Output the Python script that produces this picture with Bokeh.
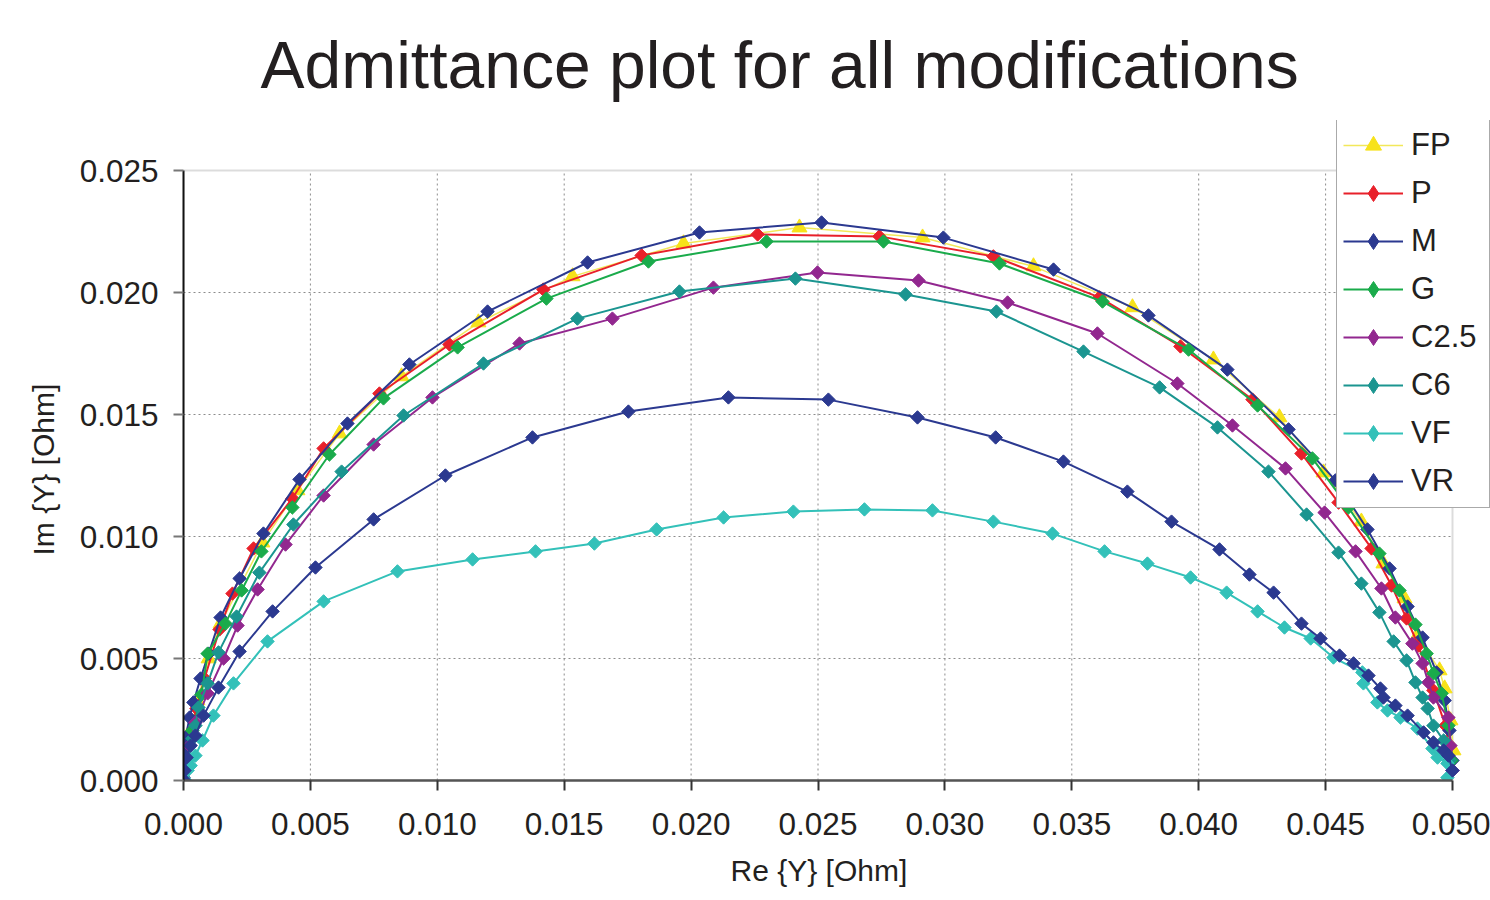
import math
import numpy as np
from bokeh.plotting import figure
from bokeh.models import Range1d, FixedTicker, NumeralTickFormatter, Legend, LegendItem, Title, BoxAnnotation
from bokeh.embed import file_html
from bokeh.resources import INLINE

# All values in units of 1e-3
FP_re = [0, 0.08, 0.28, 0.55, 0.99, 1.46, 3.11, 4.49, 6.15, 8.59, 11.62, 15.33, 19.70, 24.27, 29.12, 33.49, 37.39, 40.58, 43.18, 44.92, 46.41, 47.28, 48.11, 48.62, 49.49, 49.69, 49.92, 50.04]
FP_im = [0, 0.82, 2.05, 3.28, 5.00, 6.43, 9.75, 11.89, 14.22, 16.56, 18.77, 20.66, 22.01, 22.66, 22.25, 21.07, 19.39, 17.25, 14.88, 12.62, 10.61, 8.89, 7.46, 5.94, 4.51, 3.77, 2.46, 1.23]

P_re = [0, 0.08, 0.28, 0.51, 0.83, 1.42, 1.93, 2.76, 4.29, 5.52, 7.72, 10.48, 14.18, 18.05, 22.62, 27.42, 31.91, 36.09, 39.28, 42.12, 44.05, 45.51, 46.81, 47.60, 48.19, 48.66, 49.25, 49.72, 49.96]
P_im = [0.04, 0.74, 1.84, 2.95, 4.18, 6.19, 7.66, 9.51, 11.56, 13.61, 15.86, 17.87, 20.12, 21.52, 22.38, 22.30, 21.48, 19.80, 17.79, 15.61, 13.40, 11.39, 9.51, 7.99, 6.64, 5.53, 3.69, 2.25, 0.82]

M_re = [0, 0, 0, 0.08, 0.24, 0.39, 0.67, 0.99, 1.46, 2.21, 3.15, 4.57, 6.46, 8.90, 11.98, 15.92, 20.33, 25.14, 29.94, 34.28, 38.02, 41.13, 43.54, 45.39, 46.65, 47.52, 48.23, 48.82, 49.37, 49.69, 49.88, 50.00]
M_im = [0.12, 0.53, 1.23, 1.76, 2.58, 3.20, 4.18, 5.20, 6.68, 8.28, 10.12, 12.34, 14.63, 17.05, 19.22, 21.23, 22.46, 22.87, 22.25, 20.94, 19.06, 16.84, 14.39, 12.30, 10.29, 8.69, 7.13, 5.86, 4.43, 3.28, 2.05, 0.82]

G_re = [0, 0.12, 0.35, 0.71, 0.95, 1.65, 2.29, 3.07, 4.29, 5.75, 7.88, 10.80, 14.30, 18.32, 22.97, 27.58, 32.15, 36.21, 39.60, 42.32, 44.48, 45.90, 47.12, 47.91, 48.54, 48.98, 49.25, 49.57, 49.84, 49.96]
G_im = [0.04, 0.82, 2.05, 3.52, 5.20, 6.43, 7.79, 9.39, 11.19, 13.36, 15.66, 17.75, 19.75, 21.27, 22.09, 22.09, 21.19, 19.63, 17.66, 15.37, 13.20, 11.19, 9.30, 7.79, 6.39, 5.20, 4.39, 3.57, 2.25, 0.82]

C25_re = [0, 0.08, 0.24, 0.47, 0.95, 1.58, 2.13, 2.92, 4.02, 5.52, 7.49, 9.81, 13.24, 16.90, 20.88, 24.98, 28.96, 32.47, 36.01, 39.16, 41.33, 43.42, 44.96, 46.18, 47.20, 47.75, 48.42, 48.82, 49.05, 49.25, 49.84, 49.92, 50.00]
C25_im = [0, 0.61, 1.43, 2.38, 3.57, 5.00, 6.35, 7.83, 9.67, 11.68, 13.77, 15.70, 17.91, 18.93, 20.20, 20.82, 20.49, 19.59, 18.32, 16.27, 14.55, 12.79, 10.98, 9.39, 7.87, 6.68, 5.61, 4.80, 4.02, 3.40, 2.58, 1.43, 0.41]

C6_re = [0, 0.12, 0.35, 0.47, 0.59, 0.95, 1.38, 2.09, 2.99, 4.33, 6.23, 8.67, 11.82, 15.52, 19.54, 24.11, 28.45, 32.03, 35.46, 38.46, 40.74, 42.75, 44.25, 45.51, 46.41, 47.12, 47.68, 48.19, 48.54, 48.82, 49.02, 49.25, 49.65, 49.88]
C6_im = [0, 0.41, 1.72, 2.25, 2.99, 3.98, 5.25, 6.72, 8.52, 10.49, 12.66, 14.96, 17.09, 18.93, 20.04, 20.57, 19.92, 19.22, 17.58, 16.11, 14.47, 12.66, 10.90, 9.34, 8.07, 6.89, 5.70, 4.92, 4.02, 3.40, 2.95, 2.25, 1.64, 0.82]

VF_re = [0.04, 0.16, 0.28, 0.47, 0.75, 1.18, 1.97, 3.31, 5.52, 8.43, 11.39, 13.87, 16.19, 18.64, 21.28, 24.03, 26.83, 29.51, 31.91, 34.24, 36.29, 37.98, 39.68, 41.10, 42.32, 43.38, 44.41, 45.31, 46.45, 46.49, 47.04, 47.44, 47.95, 48.62, 49.21, 49.41, 49.80, 49.80]
VF_im = [0.04, 0.41, 0.61, 1.02, 1.64, 2.66, 3.98, 5.70, 7.34, 8.57, 9.06, 9.39, 9.71, 10.29, 10.78, 11.02, 11.11, 11.07, 10.61, 10.12, 9.39, 8.89, 8.32, 7.70, 6.93, 6.27, 5.82, 5.04, 4.43, 3.98, 3.20, 2.87, 2.58, 2.13, 1.31, 0.94, 0.70, 0.12]

VR_re = [0, 0.04, 0.12, 0.28, 0.47, 0.79, 1.38, 2.21, 3.51, 5.20, 7.49, 10.32, 13.75, 17.53, 21.47, 25.41, 28.92, 32.00, 34.67, 37.19, 38.93, 40.82, 42.00, 42.95, 44.05, 44.80, 45.55, 46.10, 46.69, 47.16, 47.28, 47.75, 48.23, 48.86, 49.25, 49.65, 49.84, 50.00]
VR_im = [0.04, 0.41, 0.94, 1.43, 1.84, 2.66, 3.81, 5.29, 6.93, 8.73, 10.70, 12.50, 14.06, 15.12, 15.70, 15.61, 14.88, 14.06, 13.07, 11.84, 10.61, 9.47, 8.44, 7.70, 6.43, 5.82, 5.12, 4.80, 4.30, 3.77, 3.40, 3.07, 2.66, 1.97, 1.56, 1.23, 1.02, 0.41]

x_ticks = [0.000, 0.005, 0.010, 0.015, 0.020, 0.025, 0.030, 0.035, 0.040, 0.045, 0.050]
y_ticks = [0.000, 0.005, 0.010, 0.015, 0.020, 0.025]

series = [
    ("FP", FP_re, FP_im, "#f2e85a", "#f7e21a", "triangle", 1.5),
    ("P", P_re, P_im, "#e8202a", "#e8202a", "diamond", 2),
    ("M", M_re, M_im, "#2b3990", "#2b3990", "diamond", 2),
    ("G", G_re, G_im, "#1aab4b", "#1aab4b", "diamond", 2),
    ("C2.5", C25_re, C25_im, "#92278f", "#92278f", "diamond", 2),
    ("C6", C6_re, C6_im, "#1b9590", "#1b9590", "diamond", 2),
    ("VF", VF_re, VF_im, "#33c1b9", "#33c1b9", "diamond", 2),
    ("VR", VR_re, VR_im, "#2b3990", "#2b3990", "diamond", 2),
]

# plot box: data area 0..0.050 x 0..0.025 spans 1269 x 610 px; the frame is
# extended right/up so that the legend (which overlaps the box edge) is not clipped
X_MAX, Y_MAX = x_ticks[-1], y_ticks[-1]
LEFT, TOP, BOTTOM, W, H = 183, 120, 120, 1490, 900
x_end = X_MAX * (W - LEFT) / 1269.0
y_end = Y_MAX * (H - BOTTOM - TOP) / 610.0

p = figure(width=W, height=H, output_backend="svg", toolbar_location=None,
           x_range=Range1d(0, x_end), y_range=Range1d(0, y_end),
           min_border_left=LEFT, min_border_right=0, min_border_top=TOP, min_border_bottom=BOTTOM)
p.background_fill_color = "white"
p.border_fill_color = "white"
p.outline_line_color = None
p.xgrid.visible = False
p.ygrid.visible = False

FONT = "Liberation Sans"
title = Title(text="Admittance plot for all modifications", align="left", offset=77,
              text_font=FONT, text_font_size="66px", text_font_style="normal",
              text_color="#231f20", standoff=38)
p.add_layout(title, "above")

for ax in (p.xaxis[0], p.yaxis[0]):
    ax.major_label_text_font = FONT
    ax.major_label_text_font_size = "31.5px"
    ax.major_label_text_color = "#231f20"
    ax.minor_tick_line_color = None
    ax.major_tick_in = 0
    ax.major_tick_out = 10
    ax.major_tick_line_width = 2
    ax.formatter = NumeralTickFormatter(format="0.000")

p.xaxis[0].ticker = FixedTicker(ticks=x_ticks)
p.yaxis[0].ticker = FixedTicker(ticks=y_ticks)
p.xaxis[0].bounds = (0, X_MAX)
p.yaxis[0].bounds = (0, Y_MAX)
p.xaxis[0].axis_line_color = "#555555"
p.xaxis[0].axis_line_width = 2.5
p.xaxis[0].major_tick_line_color = "#333333"
p.yaxis[0].axis_line_color = "#111111"
p.yaxis[0].axis_line_width = 2
p.yaxis[0].major_tick_line_color = "#777777"
p.xaxis[0].major_label_standoff = 22
p.yaxis[0].major_label_standoff = 15

# axis titles, centred on the data box (0..0.050, 0..0.025)
xlab = Title(text="Re {Y} [Ohm]", align="left", offset=547, text_font=FONT,
             text_font_size="30px", text_font_style="normal", text_color="#231f20", standoff=28)
p.add_layout(xlab, "below")
ylab = Title(text="Im {Y} [Ohm]", align="left", offset=225, text_font=FONT,
             text_font_size="30px", text_font_style="normal", text_color="#231f20", standoff=34)
p.add_layout(ylab, "left")

# dotted grid inside the data box
gx = x_ticks[1:-1]
p.segment(x0=gx, y0=[0] * len(gx), x1=gx, y1=[Y_MAX] * len(gx),
          line_color="#8c8c8c", line_dash="2 3", line_width=1, level="underlay")
gy = y_ticks[1:-1]
p.segment(x0=[0] * len(gy), y0=gy, x1=[X_MAX] * len(gy), y1=gy,
          line_color="#8c8c8c", line_dash="2 3", line_width=1, level="underlay")
# gray top/right border of the data box
p.add_layout(BoxAnnotation(left=0, right=X_MAX, bottom=0, top=Y_MAX, fill_color=None,
                           line_color="#8c8c8c", line_width=2, level="underlay"))

items = []
nan = np.array([np.nan])
for name, xs, ys, lc, mc, mk, lw in series:
    xv = [v / 1000 for v in xs]
    yv = [v / 1000 for v in ys]
    lr = p.line(xv, yv, line_color=lc, line_width=lw)
    if mk == "triangle":
        sr = p.scatter(xv, yv, marker="triangle", size=15, fill_color=mc, line_color=mc)
        lg = p.scatter(x=nan, y=nan, marker="triangle", size=16, fill_color=mc, line_color=mc)
    else:
        sr = p.scatter(xv, yv, marker="square", size=9.5, angle=math.pi / 4,
                       fill_color=mc, line_color=mc)
        lg = p.scatter(x=nan, y=nan, marker="diamond", size=16, fill_color=mc, line_color=mc)
    items.append(LegendItem(label=name, renderers=[lr, lg]))

legend = Legend(items=items, location=(1153, 272), orientation="vertical",
                label_text_font=FONT, label_text_font_size="31px", label_text_color="#231f20",
                glyph_width=60, glyph_height=40, label_height=37, label_width=72,
                label_standoff=8, spacing=8, padding=6, margin=0,
                border_line_color="#555555", border_line_width=1.5,
                background_fill_color="white", background_fill_alpha=1.0)
p.add_layout(legend, "center")

open("out.html", "w").write(file_html(p, INLINE))
